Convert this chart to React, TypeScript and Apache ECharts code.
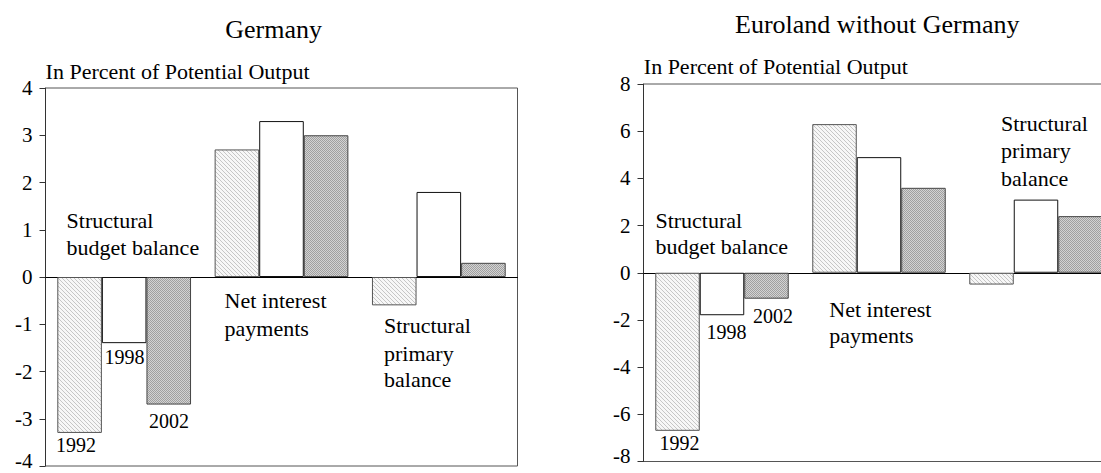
import React, { useEffect, useRef } from "react";
import * as echarts from "echarts";

// ---- data ----
const categories = ["Structural budget balance", "Net interest payments", "Structural primary balance"];
const years = ["1992", "1998", "2002"];
const germany1992 = [-3.3, 2.7, -0.6];
const germany1998 = [-1.4, 3.3, 1.8];
const germany2002 = [-2.7, 3.0, 0.3];
const euro1992 = [-6.7, 6.3, -0.5];
const euro1998 = [-1.8, 4.9, 3.1];
const euro2002 = [-1.1, 3.6, 2.4];
const germanyAxis = [-4, 4, 1]; // min, max, interval
const euroAxis = [-8, 8, 2];
const titles = ["Germany", "Euroland without Germany"];
const unitLabel = "In Percent of Potential Output";

const FONT = "'Liberation Serif', serif";

function makePattern(kind: "light" | "dark") {
  const c = document.createElement("canvas");
  c.width = 4;
  c.height = 4;
  const ctx = c.getContext("2d")!;
  if (kind === "light") {
    ctx.fillStyle = "#f7f7f7";
    ctx.fillRect(0, 0, 4, 4);
    ctx.fillStyle = "#c6c6c6";
    for (let i = 0; i < 4; i++) ctx.fillRect(i, i, 1, 1);
  } else {
    ctx.fillStyle = "#d3d3d3";
    ctx.fillRect(0, 0, 4, 4);
    ctx.fillStyle = "#a0a0a0";
    for (let y = 0; y < 4; y++)
      for (let x = 0; x < 4; x++) if ((x + y) % 2 === 0) ctx.fillRect(x, y, 1, 1);
  }
  return { image: c, repeat: "repeat", imageWidth: 4, imageHeight: 4 };
}

function txt(text: string, x: number, baseline: number, size: number, align = "left") {
  return {
    type: "text",
    x,
    y: baseline - 0.34 * size,
    silent: true,
    style: {
      text,
      fontSize: size,
      fontFamily: FONT,
      fill: "#000",
      textAlign: align,
      textVerticalAlign: "middle",
    },
  };
}

export default function App() {
  const ref = useRef<HTMLDivElement>(null);
  useEffect(() => {
    const chart = echarts.init(ref.current!, null, { renderer: "svg" });
    const light = makePattern("light");
    const dark = makePattern("dark");
    const fills = [light, "#ffffff", dark];
    const borders = ["#555555", "#111111", "#444444"];

    const grids = [
      { left: 45.5, top: 88, width: 472, height: 378 },
      { left: 643.5, top: 84, width: 471, height: 377.5 },
    ];
    const axisCfg = [germanyAxis, euroAxis];
    const dataSets = [
      [germany1992, germany1998, germany2002],
      [euro1992, euro1998, euro2002],
    ];

    const series: any[] = [];
    dataSets.forEach((sets, gi) => {
      sets.forEach((vals, yi) => {
        series.push({
          type: "bar",
          name: years[yi],
          xAxisIndex: gi,
          yAxisIndex: gi,
          data: vals,
          barGap: "0%",
          barCategoryGap: "15%",
          itemStyle: { color: fills[yi], borderColor: borders[yi], borderWidth: 1 },
          emphasis: { disabled: true },
        });
      });
    });

    const option: any = {
      animation: false,
      textStyle: { fontFamily: FONT },
      grid: grids.map((g) => ({
        ...g,
        show: true,
        borderColor: "#555",
        borderWidth: 1,
        backgroundColor: "transparent",
        containLabel: false,
        outerBoundsMode: "none",
      })),
      xAxis: grids.map((_, gi) => ({
        type: "category",
        gridIndex: gi,
        data: categories,
        axisLine: { show: true, onZero: true, lineStyle: { color: "#000", width: 1 } },
        axisTick: { show: false },
        axisLabel: { show: false },
        splitLine: { show: false },
      })),
      yAxis: grids.map((_, gi) => ({
        type: "value",
        gridIndex: gi,
        min: axisCfg[gi][0],
        max: axisCfg[gi][1],
        interval: axisCfg[gi][2],
        axisLine: { show: true, onZero: false, lineStyle: { color: "#333", width: 1 } },
        axisTick: { show: true, inside: false, length: 6, lineStyle: { color: "#333" } },
        axisLabel: {
          color: "#000",
          fontSize: 21,
          fontFamily: FONT,
          margin: 13,
          formatter: (v: number) => (v === axisCfg[gi][0] ? `{lo|${v}}` : `${v}`),
          rich: {
            lo: { fontSize: 21, fontFamily: FONT, color: "#000", lineHeight: 14, padding: [0, 0, 11, 0] },
          },
        },
        splitLine: { show: false },
      })),
      series,
      graphic: [
        txt(titles[0], 273.6, 38, 26, "center"),
        txt(unitLabel, 45.6, 79, 22),
        txt("Structural", 66.6, 227.7, 22),
        txt("budget balance", 66.6, 255, 22),
        txt("Net interest", 224.5, 308.3, 22),
        txt("payments", 224.5, 336, 22),
        txt("Structural", 384, 333.3, 22),
        txt("primary", 384, 360.7, 22),
        txt("balance", 384, 387.3, 22),
        txt(years[0], 56.1, 451.7, 20),
        txt(years[1], 104.5, 363.3, 20),
        txt(years[2], 149, 427.3, 20),

        txt(titles[1], 877.3, 33.5, 26, "center"),
        txt(unitLabel, 643.8, 74, 22),
        txt("Structural", 655.4, 227.7, 22),
        txt("budget balance", 655.4, 254, 22),
        txt("Net interest", 829.3, 317.3, 22),
        txt("payments", 829.3, 343.3, 22),
        txt("Structural", 1001, 131, 22),
        txt("primary", 1001, 158, 22),
        txt("balance", 1001, 186, 22),
        txt(years[0], 659.6, 450, 20),
        txt(years[1], 706.4, 338.3, 20),
        txt(years[2], 753, 322.7, 20),
      ],
    };
    chart.setOption(option);
    return () => chart.dispose();
  }, []);
  return (
    <div
      ref={ref}
      style={{ position: "fixed", left: 0, top: 0, width: 1101, height: 473, background: "#fff" }}
    />
  );
}
